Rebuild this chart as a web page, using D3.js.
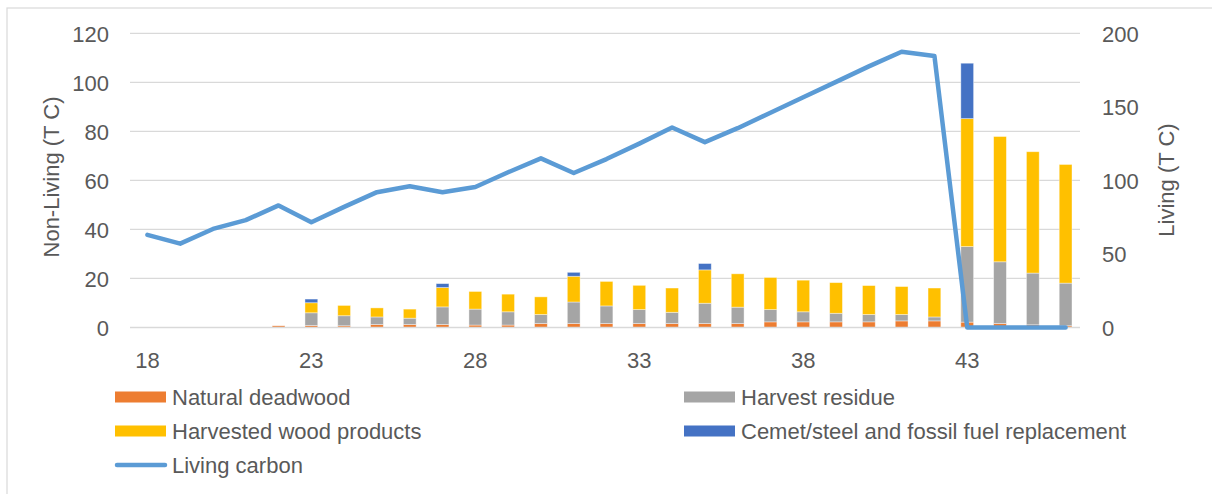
<!DOCTYPE html>
<html>
<head>
<meta charset="utf-8">
<script src="https://cdn.jsdelivr.net/npm/d3@7"></script>
<style>
  html, body { margin: 0; padding: 0; background: #fff; }
  svg { display: block; font-family: "Liberation Sans", Arial, sans-serif; }
  .tick-label { fill: #595959; font-size: 22px; }
</style>
</head>
<body>
<div id="chart"></div>
<script>
/* Carbon stock chart — stacked non-living pools + living carbon line */

var years = [18, 19, 20, 21, 22, 23, 24, 25, 26, 27, 28, 29, 30, 31, 32,
             33, 34, 35, 36, 37, 38, 39, 40, 41, 42, 43, 44, 45, 46];

var naturalDeadwood = [0, 0, 0, 0, 0.7, 0.8, 0.7, 1.2, 1.2, 1.2, 1.0, 1.0, 1.6, 1.6, 1.6,
                       1.6, 1.6, 1.6, 1.6, 2.3, 2.3, 2.3, 2.3, 2.7, 2.7, 2.2, 1.6, 1.1, 0.7];
var harvestResidue = [0, 0, 0, 0, 0, 5.2, 4.1, 3.1, 2.6, 7.2, 6.5, 5.4, 3.7, 8.8, 7.2,
                      5.7, 4.6, 8.3, 6.7, 5.0, 4.1, 3.5, 3.0, 2.6, 1.6, 30.8, 25.2, 21.1, 17.4];
var harvestedWood = [0, 0, 0, 0, 0, 4.1, 4.2, 3.7, 3.7, 7.9, 7.2, 7.2, 7.2, 10.5, 10.0,
                     9.9, 9.9, 13.6, 13.6, 13.1, 12.9, 12.5, 11.8, 11.4, 11.8, 52.2, 51.1, 49.5, 48.4];
var replacement = [0, 0, 0, 0, 0, 1.5, 0, 0, 0, 1.6, 0, 0, 0, 1.6, 0,
                   0, 0, 2.6, 0, 0, 0, 0, 0, 0, 0, 22.6, 0, 0, 0];
var livingCarbon = [63, 57, 67, 73, 83, 71.5, 82, 92, 96, 92, 95.5, 105.5, 115, 105, 114.5,
                    125, 136, 126, 135.5, 146, 156.5, 167, 177.5, 187.5, 184.6, 0, 0, 0, 0];

var leftTicks = [0, 20, 40, 60, 80, 100, 120];
var rightTicks = [0, 50, 100, 150, 200];
var xTickYears = [18, 23, 28, 33, 38, 43];

var seriesKeys = ['deadwood', 'residue', 'wood', 'replacement'];
var seriesNames = ['Natural deadwood', 'Harvest residue', 'Harvested wood products', 'Cemet/steel and fossil fuel replacement'];
var seriesColors = ['#ED7D31', '#A5A5A5', '#FFC000', '#4472C4'];

var W = 1212, H = 494;
var plot = { left: 131, right: 1082, top: 33.3, bottom: 327.5 };

var svg = d3.select('#chart').append('svg').attr('width', W).attr('height', H);

// chart area frame (runs off the right/bottom edge in the source)
svg.append('rect')
  .attr('x', 7).attr('y', 8).attr('width', W + 20).attr('height', H + 20)
  .attr('fill', '#fff').attr('stroke', '#d9d9d9').attr('stroke-width', 1.2);

var x = d3.scaleBand().domain(years).range([plot.left, plot.right]).paddingInner(0.61).paddingOuter(0.305);
var xCenter = d3.scalePoint().domain(years).range([plot.left, plot.right]).padding(0.5);
var yLeft = d3.scaleLinear().domain([0, 120]).range([plot.bottom, plot.top]);
var yRight = d3.scaleLinear().domain([0, 200]).range([plot.bottom, plot.top]);

// gridlines
svg.append('g').selectAll('line')
  .data(leftTicks.filter(function(t) { return t > 0; }))
  .join('line')
  .attr('x1', plot.left - 1).attr('x2', plot.right - 2)
  .attr('y1', function(d) { return yLeft(d); }).attr('y2', function(d) { return yLeft(d); })
  .attr('stroke', '#d9d9d9').attr('stroke-width', 1.3);

// left axis
var leftAxis = svg.append('g')
  .attr('transform', 'translate(' + (plot.left - 22) + ',0)')
  .call(d3.axisLeft(yLeft).tickValues(leftTicks).tickSize(0).tickPadding(0));
leftAxis.select('.domain').remove();
leftAxis.selectAll('text').attr('class', 'tick-label').attr('dy', '0.35em');

// right axis
var rightAxis = svg.append('g')
  .attr('transform', 'translate(' + (plot.right + 20) + ',0)')
  .call(d3.axisRight(yRight).tickValues(rightTicks).tickSize(0).tickPadding(0));
rightAxis.select('.domain').remove();
rightAxis.selectAll('text').attr('class', 'tick-label').attr('dy', '0.35em');

// stacked bars
var rows = years.map(function(yr, i) {
  return { year: yr, deadwood: naturalDeadwood[i], residue: harvestResidue[i], wood: harvestedWood[i], replacement: replacement[i] };
});
var stacked = d3.stack().keys(seriesKeys)(rows);

svg.append('g').selectAll('g')
  .data(stacked).join('g')
  .attr('fill', function(d, i) { return seriesColors[i]; })
  .selectAll('rect')
  .data(function(d) { return d.filter(function(p) { return p[1] - p[0] > 0; }); })
  .join('rect')
  .attr('x', function(d) { return x(d.data.year); })
  .attr('width', x.bandwidth())
  .attr('y', function(d) { return yLeft(d[1]); })
  .attr('height', function(d) { return yLeft(d[0]) - yLeft(d[1]); })
  .attr('stroke', 'rgba(255,255,255,0.5)').attr('stroke-width', 0.8);

// x axis line + labels
svg.append('line')
  .attr('x1', plot.left - 1).attr('x2', plot.right - 2)
  .attr('y1', plot.bottom).attr('y2', plot.bottom)
  .attr('stroke', '#d9d9d9').attr('stroke-width', 1.5);

svg.append('g').selectAll('text')
  .data(xTickYears).join('text')
  .attr('class', 'tick-label')
  .attr('x', function(d) { return xCenter(d); })
  .attr('y', 367.5)
  .attr('text-anchor', 'middle')
  .text(function(d) { return d; });

// living carbon line
var line = d3.line()
  .x(function(d, i) { return xCenter(years[i]); })
  .y(function(d) { return yRight(d); });

svg.append('path')
  .datum(livingCarbon)
  .attr('d', line)
  .attr('fill', 'none')
  .attr('stroke', '#5B9BD5')
  .attr('stroke-width', 4.5)
  .attr('stroke-linejoin', 'round')
  .attr('stroke-linecap', 'round');

// axis titles
svg.append('text')
  .attr('class', 'tick-label')
  .attr('transform', 'translate(51,177) rotate(-90)')
  .attr('text-anchor', 'middle').attr('dy', '0.35em')
  .text('Non-Living (T C)');

svg.append('text')
  .attr('class', 'tick-label')
  .attr('transform', 'translate(1166,180) rotate(-90)')
  .attr('text-anchor', 'middle').attr('dy', '0.35em')
  .text('Living (T C)');

// legend
var legendItems = [
  { name: seriesNames[0], color: seriesColors[0], col: 0, row: 0, type: 'box' },
  { name: seriesNames[1], color: seriesColors[1], col: 1, row: 0, type: 'box' },
  { name: seriesNames[2], color: seriesColors[2], col: 0, row: 1, type: 'box' },
  { name: seriesNames[3], color: seriesColors[3], col: 1, row: 1, type: 'box' },
  { name: 'Living carbon', color: '#5B9BD5', col: 0, row: 2, type: 'line' }
];
var colX = [115, 684];
var rowY = [397, 431, 465];

var legend = svg.append('g').selectAll('g')
  .data(legendItems).join('g')
  .attr('transform', function(d) { return 'translate(' + colX[d.col] + ',' + rowY[d.row] + ')'; });

legend.filter(function(d) { return d.type === 'box'; })
  .append('rect')
  .attr('x', 0).attr('y', -5.5).attr('width', 51).attr('height', 11)
  .attr('fill', function(d) { return d.color; });

legend.filter(function(d) { return d.type === 'line'; })
  .append('line')
  .attr('x1', 2).attr('x2', 50).attr('y1', 0).attr('y2', 0)
  .attr('stroke', function(d) { return d.color; })
  .attr('stroke-width', 4.5).attr('stroke-linecap', 'round');

legend.append('text')
  .attr('class', 'tick-label')
  .attr('x', 57).attr('dy', '0.35em')
  .text(function(d) { return d.name; });
</script>
</body>
</html>
